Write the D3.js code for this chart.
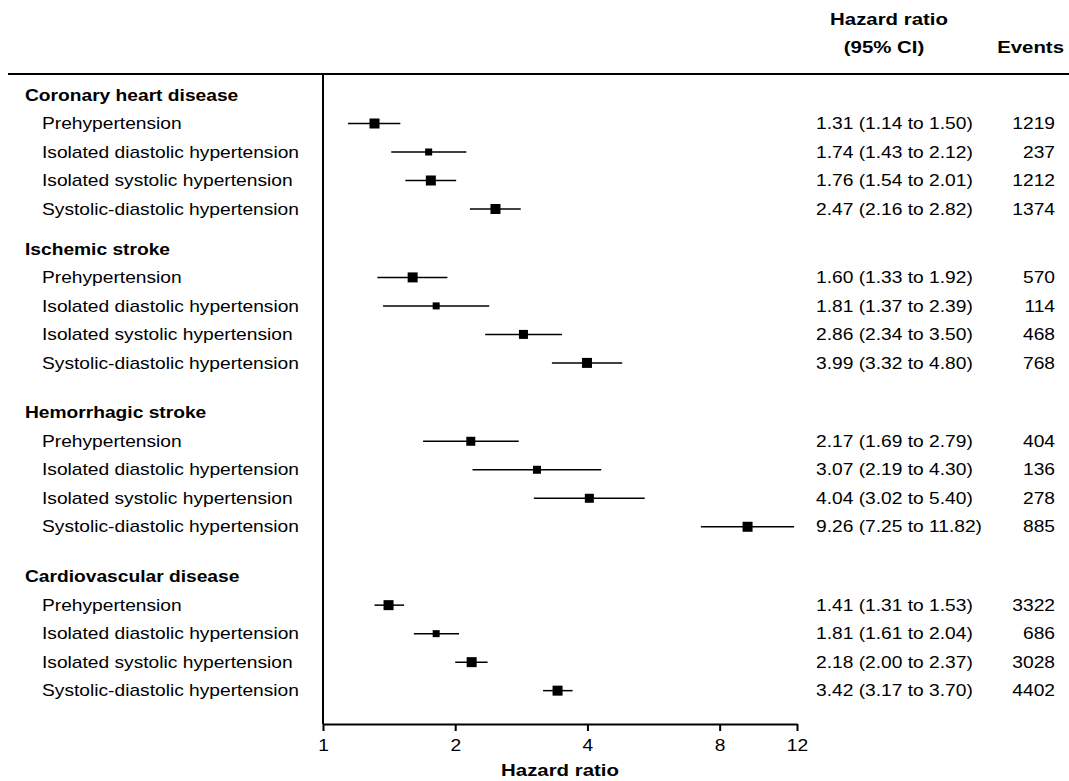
<!DOCTYPE html>
<html>
<head>
<meta charset="utf-8">
<script src="https://cdn.jsdelivr.net/npm/d3@7"></script>
<style>
  html, body { margin: 0; padding: 0; background: #fff; }
  svg { display: block; }
  text { font-family: "Liberation Sans", Arial, Helvetica, sans-serif; fill: #000; }
</style>
</head>
<body>
<svg id="chart" width="1069" height="781"></svg>
<script>
// ---------------- DATA ----------------
const groups = ["Coronary heart disease", "Ischemic stroke", "Hemorrhagic stroke", "Cardiovascular disease"];
const subgroups = ["Prehypertension", "Isolated diastolic hypertension", "Isolated systolic hypertension", "Systolic-diastolic hypertension"];

const hr    = [1.31, 1.74, 1.76, 2.47,  1.60, 1.81, 2.86, 3.99,  2.17, 3.07, 4.04, 9.26,  1.41, 1.81, 2.18, 3.42];
const ciLow = [1.14, 1.43, 1.54, 2.16,  1.33, 1.37, 2.34, 3.32,  1.69, 2.19, 3.02, 7.25,  1.31, 1.61, 2.00, 3.17];
const ciHigh= [1.50, 2.12, 2.01, 2.82,  1.92, 2.39, 3.50, 4.80,  2.79, 4.30, 5.40, 11.82, 1.53, 2.04, 2.37, 3.70];
const events= [1219, 237, 1212, 1374,   570, 114, 468, 768,      404, 136, 278, 885,      3322, 686, 3028, 4402];

const tickValues = [1, 2, 4, 8, 12];
const axisTitle = "Hazard ratio";
const headerHR = ["Hazard ratio", "(95% CI)"];
const headerEvents = "Events";

// ---------------- STYLE / LAYOUT ----------------
const markerSide = [10, 7, 10, 10,  10, 7, 9, 10,  9, 8, 9, 10,  10, 7, 10, 10];
const groupGapSlots = [1.4, 1.75, 1.75];
const stretch = 1.2;
const fs = 16;
const fsHead = 17;

const svg = d3.select("#chart");

const x = d3.scaleLog().base(2).domain([1, 12]).range([323, 797]);

// slot layout: header slot then 4 rows, with gaps between groups
const slots = [];
let s = 0;
groups.forEach((g, gi) => {
  slots.push({type: "header", g: gi, slot: s});
  subgroups.forEach((sg, si) => {
    s += 1;
    slots.push({type: "row", g: gi, i: gi * subgroups.length + si, label: sg, slot: s});
  });
  if (gi < groupGapSlots.length) s += groupGapSlots[gi];
});
const y = d3.scaleLinear().domain([0, 1]).range([95, 95 + 28.5]);

function stext(parent, str, tx, ty, opts = {}) {
  return parent.append("text")
    .attr("transform", `translate(${tx},${ty}) scale(${stretch},1)`)
    .attr("dy", "0.35em")
    .attr("font-size", opts.size || fs)
    .attr("font-weight", opts.bold ? "bold" : "normal")
    .attr("text-anchor", opts.anchor || "start")
    .text(str);
}

// header
stext(svg, headerHR[0], 889, 19, {bold: true, anchor: "middle", size: fsHead});
stext(svg, headerHR[1], 884, 47, {bold: true, anchor: "middle", size: fsHead});
stext(svg, headerEvents, 1064, 47, {bold: true, anchor: "end", size: fsHead});

// top rule
svg.append("line").attr("x1", 8).attr("x2", 1069).attr("y1", 74).attr("y2", 74)
  .attr("stroke", "#000").attr("stroke-width", 2.2);

// vertical reference line at HR=1
const axisY = 724;
svg.append("line").attr("x1", x(1)).attr("x2", x(1)).attr("y1", 74).attr("y2", axisY)
  .attr("stroke", "#000").attr("stroke-width", 2);

// labels + marks
const rowsG = svg.append("g");
slots.forEach(d => {
  const yy = y(d.slot);
  if (d.type === "header") {
    stext(rowsG, groups[d.g], 25, yy, {bold: true});
  } else {
    stext(rowsG, d.label, 42, yy);
    const i = d.i;
    rowsG.append("line")
      .attr("x1", x(ciLow[i])).attr("x2", x(ciHigh[i]))
      .attr("y1", yy).attr("y2", yy)
      .attr("stroke", "#000").attr("stroke-width", 1.5);
    const m = markerSide[i];
    rowsG.append("rect")
      .attr("x", x(hr[i]) - m / 2).attr("y", yy - m / 2)
      .attr("width", m).attr("height", m)
      .attr("fill", "#000");
    stext(rowsG, `${hr[i].toFixed(2)} (${ciLow[i].toFixed(2)} to ${ciHigh[i].toFixed(2)})`, 816, yy);
    stext(rowsG, String(events[i]), 1055, yy, {anchor: "end"});
  }
});

// x axis
const axis = d3.axisBottom(x).tickValues(tickValues).tickFormat(d3.format("d"))
  .tickSize(7).tickPadding(9).tickSizeOuter(0);
const ax = svg.append("g").attr("transform", `translate(0,${axisY})`).call(axis);
ax.select(".domain").attr("stroke", "#000").attr("stroke-width", 2);
ax.selectAll(".tick line").attr("stroke", "#000").attr("stroke-width", 2);
ax.selectAll(".tick text")
  .attr("font-size", fs)
  .attr("font-family", "Liberation Sans, Arial, sans-serif")
  .attr("fill", "#000")
  .attr("transform", `scale(${stretch},1)`)
  .attr("x", 0);

stext(svg, axisTitle, 560, 770, {bold: true, anchor: "middle", size: fsHead});
</script>
</body>
</html>
